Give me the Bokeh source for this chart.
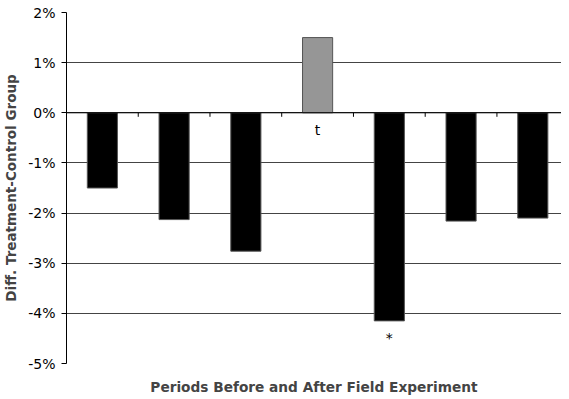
from bokeh.plotting import figure
from bokeh.models import Range1d, FixedTicker, PrintfTickFormatter, ColumnDataSource
from bokeh.core.properties import value
from bokeh.embed import file_html
from bokeh.resources import INLINE

periods = [1, 2, 3, 4, 5, 6, 7]
diffs = [-1.5, -2.13, -2.76, 1.5, -4.15, -2.16, -2.1]
colors = ["black", "black", "black", "#969696", "black", "black", "black"]
marks = ["", "", "", "t", "*", "", ""]
y_ticks = [-5, -4, -3, -2, -1, 0, 1, 2]

FONT = "DejaVu Sans"

# the reference plot area is cut off slightly at the right edge of the window
p = figure(width=561, height=397, output_backend="svg", toolbar_location=None,
           x_range=Range1d(0.5, 7.4), y_range=Range1d(-5, 2),
           min_border_left=63, min_border_top=12, min_border_right=0, min_border_bottom=32)
p.outline_line_color = None
p.background_fill_color = "white"
p.border_fill_color = "white"

src = ColumnDataSource(dict(x=periods, top=diffs, color=colors))
p.vbar(x="x", top="top", bottom=0, width=0.42, fill_color="color", line_color="#555555",
       line_width=1, source=src)

# zero line with boundary ticks
p.line(x=[0.5, 7.5], y=[0, 0], line_color="black", line_width=1)
bounds = [i + 0.5 for i in periods[:-1]]
p.segment(x0=bounds, y0=[0] * len(bounds), x1=bounds, y1=[-0.08] * len(bounds),
          line_color="black", line_width=1)

# annotations
ann_x = [x for x, m in zip(periods, marks) if m]
ann_y = [min(v, 0) for v, m in zip(diffs, marks) if m]
ann_t = [m for m in marks if m]
p.text(x=ann_x, y=ann_y, text=ann_t, text_align="center", text_baseline="top",
       y_offset=9, text_font=value(FONT), text_font_size="14px", text_color="black")

p.xgrid.grid_line_color = None
p.ygrid.ticker = FixedTicker(ticks=y_ticks)
p.ygrid.grid_line_color = "#444444"
p.ygrid.grid_line_width = 1

p.yaxis.ticker = FixedTicker(ticks=y_ticks)
p.yaxis.formatter = PrintfTickFormatter(format="%d%%")
p.yaxis.axis_line_color = "black"
p.yaxis.major_tick_out = 5
p.yaxis.major_tick_in = 0
p.yaxis.minor_tick_line_color = None
p.yaxis.major_label_text_font = FONT
p.yaxis.major_label_text_font_size = "14px"
p.yaxis.major_label_text_color = "black"
p.yaxis.major_label_standoff = 6
p.yaxis.axis_label = "Diff. Treatment-Control Group"
p.yaxis.axis_label_text_font = FONT
p.yaxis.axis_label_text_font_style = "bold"
p.yaxis.axis_label_text_font_size = "13.5px"
p.yaxis.axis_label_standoff = 6

p.xaxis.ticker = FixedTicker(ticks=[])
p.xaxis.axis_line_color = None
p.xaxis.major_tick_line_color = None
p.xaxis.major_tick_out = 0
p.xaxis.major_tick_in = 0
p.xaxis.major_label_standoff = 0
p.xaxis.minor_tick_line_color = None
p.xaxis.axis_label = "Periods Before and After Field Experiment"
p.xaxis.axis_label_text_font = FONT
p.xaxis.axis_label_text_font_style = "bold"
p.xaxis.axis_label_text_font_size = "13.7px"
p.xaxis.axis_label_standoff = 15

open("out.html", "w").write(file_html(p, INLINE))
